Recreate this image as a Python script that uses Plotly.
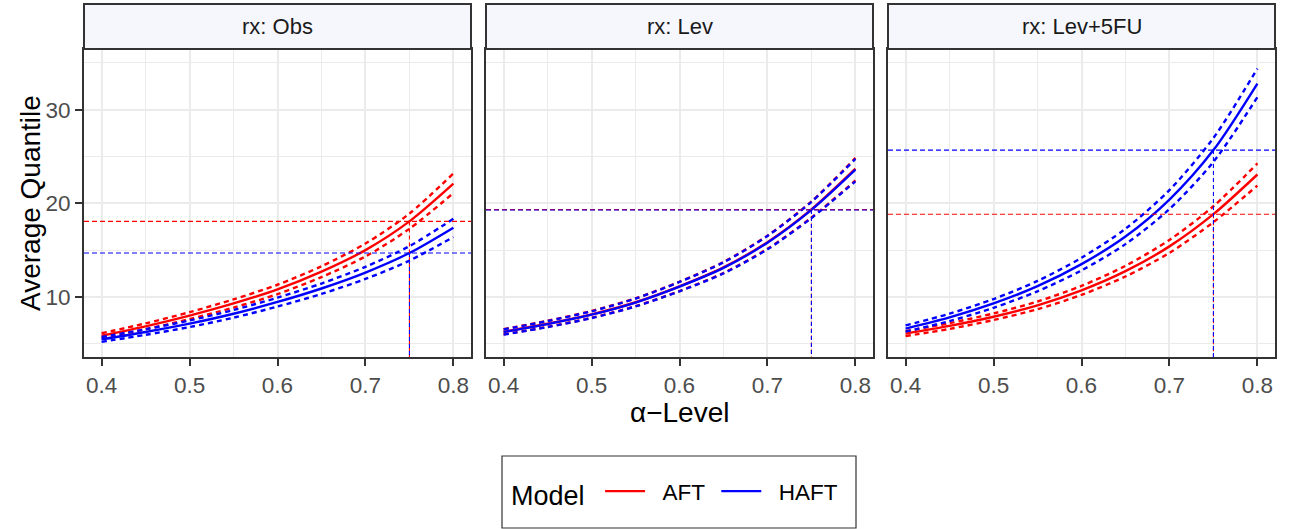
import plotly.graph_objects as go

# ---------------- data ----------------
alpha = [0.40, 0.45, 0.50, 0.55, 0.60, 0.65, 0.70, 0.75, 0.80]
panels = ["Obs", "Lev", "Lev+5FU"]
models = ["AFT", "HAFT"]

obs_aft_est = [5.85, 6.85, 8.00, 9.30, 10.80, 12.70, 15.00, 18.07, 22.10]
obs_aft_lo = [5.60, 6.54, 7.63, 8.86, 10.30, 12.12, 14.32, 17.28, 21.10]
obs_aft_hi = [6.12, 7.17, 8.37, 9.74, 11.30, 13.28, 15.70, 18.90, 23.20]
obs_haft_est = [5.46, 6.25, 7.14, 8.20, 9.46, 10.90, 12.60, 14.69, 17.40]
obs_haft_lo = [5.20, 5.95, 6.78, 7.78, 8.97, 10.32, 11.92, 13.88, 16.40]
obs_haft_hi = [5.72, 6.55, 7.48, 8.60, 9.92, 11.43, 13.22, 15.42, 18.35]

lev_aft_est = [6.28, 7.13, 8.13, 9.43, 11.13, 13.15, 15.85, 19.35, 23.70]
lev_aft_lo = [6.00, 6.81, 7.77, 9.01, 10.63, 12.56, 15.14, 18.48, 22.45]
lev_aft_hi = [6.56, 7.45, 8.50, 9.85, 11.62, 13.73, 16.55, 20.20, 24.85]
lev_haft_est = [6.25, 7.10, 8.10, 9.40, 11.10, 13.10, 15.80, 19.30, 23.60]
lev_haft_lo = [5.97, 6.78, 7.74, 8.98, 10.60, 12.51, 15.09, 18.43, 22.35]
lev_haft_hi = [6.53, 7.42, 8.46, 9.82, 11.60, 13.69, 16.51, 20.16, 24.75]

lev5fu_aft_est = [6.08, 6.90, 7.88, 9.10, 10.70, 12.75, 15.40, 18.84, 23.08]
lev5fu_aft_lo = [5.82, 6.58, 7.53, 8.69, 10.22, 12.18, 14.71, 17.99, 21.90]
lev5fu_aft_hi = [6.35, 7.20, 8.23, 9.51, 11.18, 13.32, 16.09, 19.69, 24.26]
lev5fu_haft_est = [6.62, 7.81, 9.30, 11.15, 13.50, 16.45, 20.40, 25.69, 32.80]
lev5fu_haft_lo = [6.29, 7.42, 8.84, 10.60, 12.83, 15.64, 19.39, 24.43, 31.35]
lev5fu_haft_hi = [6.96, 8.21, 9.77, 11.71, 14.18, 17.28, 21.42, 26.98, 34.40]

# quantile at alpha = 0.75 (reference lines)
ref_alpha = 0.75
ref_q_aft = [18.07, 19.33, 18.84]
ref_q_haft = [14.69, 19.28, 25.69]

x_ticks = [0.4, 0.5, 0.6, 0.7, 0.8]
x_tick_labels = ["0.4", "0.5", "0.6", "0.7", "0.8"]
y_ticks = [10, 20, 30]
y_tick_labels = ["10", "20", "30"]

X_RANGE = [0.38, 0.82]
Y_RANGE = [3.58, 36.49]

series = {
    ("Obs", "AFT"): (obs_aft_est, obs_aft_lo, obs_aft_hi),
    ("Obs", "HAFT"): (obs_haft_est, obs_haft_lo, obs_haft_hi),
    ("Lev", "AFT"): (lev_aft_est, lev_aft_lo, lev_aft_hi),
    ("Lev", "HAFT"): (lev_haft_est, lev_haft_lo, lev_haft_hi),
    ("Lev+5FU", "AFT"): (lev5fu_aft_est, lev5fu_aft_lo, lev5fu_aft_hi),
    ("Lev+5FU", "HAFT"): (lev5fu_haft_est, lev5fu_haft_lo, lev5fu_haft_hi),
}
ref_q = {"AFT": ref_q_aft, "HAFT": ref_q_haft}

# ---------------- styling ----------------
W, H = 1290, 529
colors = {"AFT": "#FF0000", "HAFT": "#0000FF"}
FONT = "Liberation Sans, Arial, Helvetica, sans-serif"
BORDER = "#333333"
GRID = "#EBEBEB"
NB = "\u00a0"


def px_x(p):
    return p / W


def px_y(p):
    return (H - p) / H


x_domains = [(84, 471), (486, 873), (888, 1275)]
y_top, y_bot = 49, 357
strip_top = 4

fig = go.Figure()

for i, panel in enumerate(panels):
    ax = "" if i == 0 else str(i + 1)
    for m in models:
        est, lo, hi = series[(panel, m)]
        c = colors[m]
        for ys, dash, show in ((lo, "5px,4px", False), (hi, "5px,4px", False), (est, "solid", i == 0)):
            fig.add_trace(go.Scatter(
                x=alpha, y=ys, mode="lines",
                line=dict(color=c, width=2.4, dash=dash, shape="spline", smoothing=0.8),
                name=NB * 2 + m + NB, legendgroup=m, showlegend=show,
                xaxis="x" + ax, yaxis="y" + ax, hoverinfo="skip",
            ))
    # vertical reference segments, drawn from the curve down to the panel bottom
    for m in models:
        q = ref_q[m][i]
        fig.add_trace(go.Scatter(
            x=[ref_alpha, ref_alpha], y=[q, Y_RANGE[0]], mode="lines",
            line=dict(color=colors[m], width=1.1, dash="4px,3px"),
            showlegend=False, xaxis="x" + ax, yaxis="y" + ax, hoverinfo="skip",
        ))
    # horizontal reference lines across the full panel
    for m in models:
        q = ref_q[m][i]
        fig.add_shape(type="line", xref=f"x{ax} domain", yref="y" + ax,
                      x0=0, x1=1, y0=q, y1=q,
                      line=dict(color=colors[m], width=1.1, dash="5px,3px"))

# strips
for i, panel in enumerate(panels):
    x0, x1 = x_domains[i]
    fig.add_shape(type="rect", xref="paper", yref="paper",
                  x0=px_x(x0), x1=px_x(x1), y0=px_y(y_top), y1=px_y(strip_top),
                  fillcolor="#F6F7FD", line=dict(color=BORDER, width=2), layer="above")
    fig.add_annotation(x=px_x((x0 + x1) / 2), y=px_y((strip_top + y_top) / 2),
                       xref="paper", yref="paper", text="rx: " + panel, showarrow=False,
                       font=dict(family=FONT, size=22, color="#1A1A1A"),
                       xanchor="center", yanchor="middle")

axis_common = dict(
    showline=True, mirror=True, linecolor=BORDER, linewidth=2,
    showgrid=True, gridcolor=GRID, gridwidth=2, zeroline=False,
    ticks="outside", ticklen=7, tickwidth=2, tickcolor=BORDER,
    tickfont=dict(family=FONT, size=22.5, color="#4D4D4D"),
)

layout = dict(
    width=W, height=H, margin=dict(l=0, r=0, t=0, b=0),
    paper_bgcolor="white", plot_bgcolor="white",
    font=dict(family=FONT),
    showlegend=True,
)
for i in range(3):
    ax = "" if i == 0 else str(i + 1)
    x0, x1 = x_domains[i]
    layout["xaxis" + ax] = dict(
        axis_common, domain=[px_x(x0), px_x(x1)], range=X_RANGE,
        tickvals=x_ticks, ticktext=x_tick_labels, anchor="y" + ax,
        minor=dict(dtick=0.05, tick0=0.4, showgrid=True, gridcolor=GRID, gridwidth=1, ticks=""),
    )
    yax = dict(
        axis_common, domain=[px_y(y_bot), px_y(y_top)], range=Y_RANGE,
        tickvals=y_ticks, ticktext=y_tick_labels, anchor="x" + ax,
        minor=dict(dtick=5, tick0=0, showgrid=True, gridcolor=GRID, gridwidth=1, ticks=""),
    )
    if i > 0:
        yax["showticklabels"] = False
        yax["ticks"] = ""
        yax["matches"] = "y"
    layout["yaxis" + ax] = yax

fig.update_layout(**layout)

# axis titles
fig.add_annotation(x=px_x(679), y=px_y(412), xref="paper", yref="paper",
                   text="\u03b1\u2212Level", showarrow=False,
                   font=dict(family=FONT, size=28, color="#000000"),
                   xanchor="center", yanchor="middle")
fig.add_annotation(x=px_x(30), y=px_y((y_top + y_bot) / 2), xref="paper", yref="paper",
                   text="Average Quantile", showarrow=False, textangle=-90,
                   font=dict(family=FONT, size=28, color="#000000"),
                   xanchor="center", yanchor="middle")

# legend box + legend
fig.add_shape(type="rect", xref="paper", yref="paper",
              x0=px_x(502), x1=px_x(856), y0=px_y(528), y1=px_y(456),
              line=dict(color=BORDER, width=1.2), fillcolor="rgba(0,0,0,0)")
fig.update_layout(legend=dict(
    orientation="h", x=px_x(679), xanchor="center", y=px_y(493), yanchor="middle",
    bgcolor="rgba(0,0,0,0)", borderwidth=0,
    title=dict(text="Model" + NB, font=dict(family=FONT, size=27, color="#000000"), side="left"),
    font=dict(family=FONT, size=22.5, color="#000000"),
    itemwidth=40, itemclick=False, itemdoubleclick=False,
))

fig.write_html("out.html", config={"displayModeBar": False},
               post_script="document.body.style.margin='0';document.body.style.padding='0';")
